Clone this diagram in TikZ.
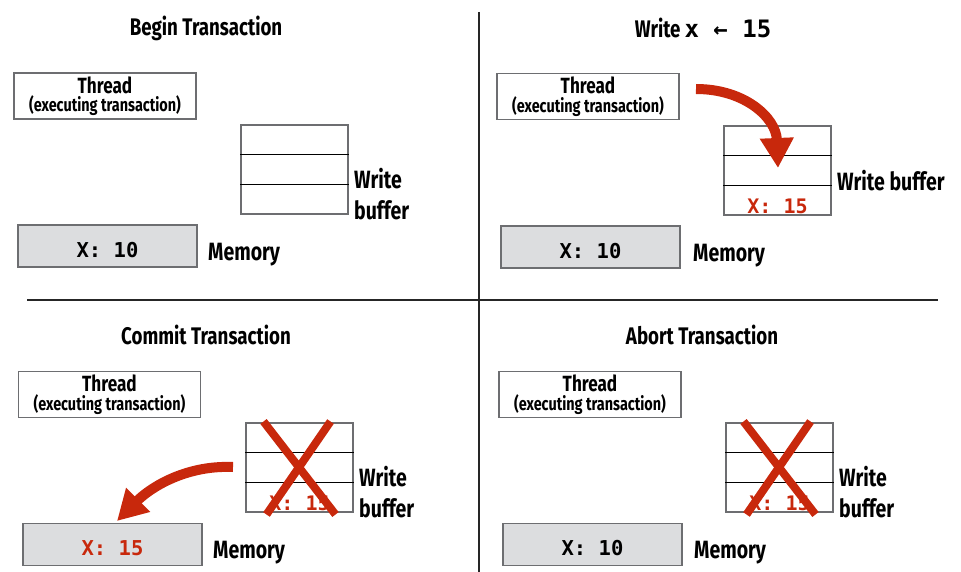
\documentclass[tikz,border=0pt]{standalone}
\usepackage{fontspec}
\setmainfont{Fira Sans}[FakeStretch=0.78]
\newfontfamily\codefont{DejaVu Sans Mono}
\usetikzlibrary{arrows.meta,calc}
\definecolor{TxRed}{HTML}{C8280C}
\definecolor{BoxGrey}{HTML}{6D6E71}
\definecolor{MemFill}{HTML}{DCDDDF}
\newcommand{\thrtext}{{\fontsize{22}{16}\selectfont Thread}\\(executing transaction)}

\begin{document}
\begin{tikzpicture}[x=1pt,y=-1pt,
  ttl/.style={font=\fontsize{24}{26}\selectfont\bfseries},
  thrbox/.style={draw=BoxGrey,line width=1.5pt,minimum width=182pt,minimum height=46pt,
    inner sep=0pt,align=center,font=\fontsize{18.5}{18.5}\selectfont\bfseries},
  bufbox/.style={draw=BoxGrey,line width=1.5pt,minimum width=107pt,minimum height=89pt,inner sep=0pt},
  membox/.style={draw=BoxGrey,fill=MemFill,line width=1.5pt,minimum width=179pt,minimum height=42pt,
    inner sep=0pt,text height=22.6pt,text depth=0pt,font=\fontsize{20.5}{22}\selectfont\codefont\bfseries},
  lbl/.style={font=\fontsize{25}{31}\selectfont\bfseries,anchor=west,align=left,inner sep=0pt},
  val/.style={font=\fontsize{20}{22}\selectfont\codefont\bfseries,text=TxRed,inner sep=0pt},
  rowline/.style={line width=1.2pt,draw=black},
  cross/.style={line width=8pt,draw=TxRed},
  redarr/.style={line width=10pt,draw=TxRed,-{Triangle[length=30pt,width=32pt]}},
  sep/.style={line width=1.2pt,draw=black!85}
]
  \useasboundingbox (0,0) rectangle (961,572);

  % separators
  \draw[sep] (479,12) -- (479,572);
  \draw[sep] (27,300) -- (938,300);

  % Begin Transaction
  \node[ttl] (t1) at (206,28) {Begin Transaction};
  \node[thrbox] (thr1) at (105,96) {\thrtext};
  \node[bufbox] (buf1) at (294.5,169.5) {};
  \draw[rowline] ($(buf1.north west)!1/3!(buf1.south west)$) -- ($(buf1.north east)!1/3!(buf1.south east)$);
  \draw[rowline] ($(buf1.north west)!2/3!(buf1.south west)$) -- ($(buf1.north east)!2/3!(buf1.south east)$);
  \node[lbl] (wb1) at (354,194) {Write\\buffer};
  \node[membox] (mem1) at (107.5,246) {X: 10};
  \node[lbl] (ml1) at (208,255) {Memory};

  % Write x <- 15
  \node[ttl] (t2) at (703,28) {Write\hspace{4pt}{\codefont\fontsize{24}{26}\selectfont x ← 15}};
  \node[thrbox] (thr2) at (588,96.5) {\thrtext};
  \node[bufbox] (buf2) at (777.5,170.5) {};
  \draw[rowline] ($(buf2.north west)!1/3!(buf2.south west)$) -- ($(buf2.north east)!1/3!(buf2.south east)$);
  \draw[rowline] ($(buf2.north west)!2/3!(buf2.south west)$) -- ($(buf2.north east)!2/3!(buf2.south east)$);
  \node[val] (v2) at (777.5,206) {X: 15};
  \node[lbl] (wb2) at (837,181) {Write buffer};
  \node[membox] (mem2) at (590.5,247) {X: 10};
  \node[lbl] (ml2) at (693,256) {Memory};
  \coordinate (a2s) at (696,89);
  \coordinate (a2e) at (778,168);
  \draw[redarr] (a2s) .. controls (745,89) and (776,118) .. (a2e);

  % Commit Transaction
  \node[ttl] (t3) at (206,335) {Commit Transaction};
  \node[thrbox] (thr3) at (109.5,394.5) {\thrtext};
  \node[bufbox] (buf3) at (299.5,467.5) {};
  \draw[rowline] ($(buf3.north west)!1/3!(buf3.south west)$) -- ($(buf3.north east)!1/3!(buf3.south east)$);
  \draw[rowline] ($(buf3.north west)!2/3!(buf3.south west)$) -- ($(buf3.north east)!2/3!(buf3.south east)$);
  \node[val] (v3) at (299.5,503) {X: 15};
  \draw[cross] ($(buf3)+(-36,-46)$) -- ($(buf3)+(36,47)$);
  \draw[cross] ($(buf3)+(31,-46)$) -- ($(buf3)+(-33,47)$);
  \node[lbl] (wb3) at (359,492) {Write\\buffer};
  \node[membox,text=TxRed] (mem3) at (112.5,544.5) {X: 15};
  \node[lbl] (ml3) at (213,553) {Memory};
  \coordinate (a3s) at (233,467);
  \coordinate (a3e) at (117,521);
  \draw[redarr] (a3s) .. controls (185,465) and (150,488) .. (a3e);

  % Abort Transaction
  \node[ttl] (t4) at (702,335) {Abort Transaction};
  \node[thrbox] (thr4) at (590,394.5) {\thrtext};
  \node[bufbox] (buf4) at (779.5,467.5) {};
  \draw[rowline] ($(buf4.north west)!1/3!(buf4.south west)$) -- ($(buf4.north east)!1/3!(buf4.south east)$);
  \draw[rowline] ($(buf4.north west)!2/3!(buf4.south west)$) -- ($(buf4.north east)!2/3!(buf4.south east)$);
  \node[val] (v4) at (779.5,503) {X: 15};
  \draw[cross] ($(buf4)+(-36,-46)$) -- ($(buf4)+(36,47)$);
  \draw[cross] ($(buf4)+(31,-46)$) -- ($(buf4)+(-33,47)$);
  \node[lbl] (wb4) at (839,492) {Write\\buffer};
  \node[membox] (mem4) at (592.5,544.5) {X: 10};
  \node[lbl] (ml4) at (694,553) {Memory};
\end{tikzpicture}
\end{document}
